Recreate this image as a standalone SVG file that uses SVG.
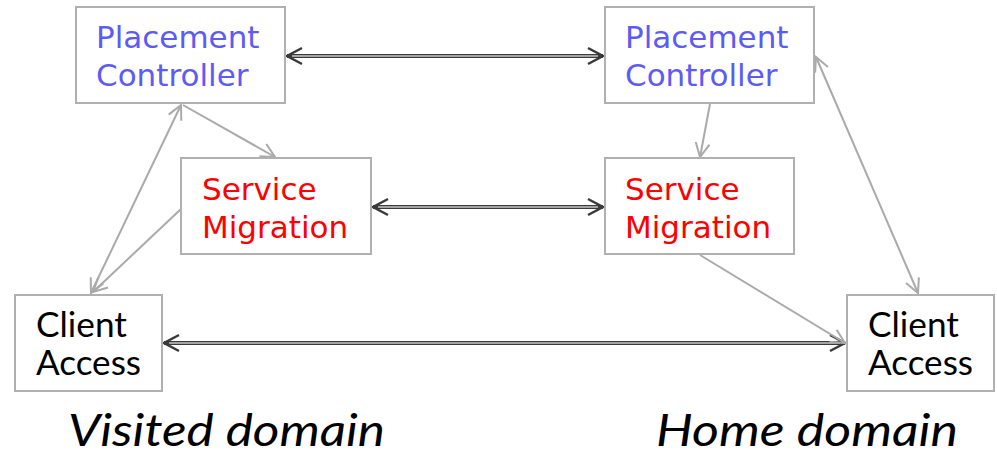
<svg xmlns="http://www.w3.org/2000/svg" width="997" height="456" viewBox="0 0 997 456">
<style>
.box{fill:#fff;stroke:#b0b0b0;stroke-width:2}
.v{font-family:"DejaVu Sans",Verdana,sans-serif;font-size:31px}
.blue{fill:#5c5cf5}
.red{fill:#ff0000}
.c{font-family:Lato,"Open Sans",sans-serif;font-size:35px;fill:#000}
.dom{font-family:Lato,"Open Sans",sans-serif;font-style:italic;font-size:44px;fill:#000}
.g{stroke:#aaaaaa;stroke-width:2;fill:none}
.d{stroke:#3a3a3a;stroke-width:4;fill:none}
.di{stroke:#c8c8c8;stroke-width:1.3;fill:none}
</style>
<defs>
<marker id="ag" markerUnits="userSpaceOnUse" markerWidth="20" markerHeight="20" viewBox="0 0 20 20" refX="17" refY="10" orient="auto-start-reverse">
<path d="M3,3 L17,10 L3,17" fill="none" stroke="#aaaaaa" stroke-width="2"/>
</marker>
<marker id="ad" markerUnits="userSpaceOnUse" markerWidth="22" markerHeight="22" viewBox="0 0 22 22" refX="18" refY="11" orient="auto-start-reverse">
<path d="M3,3 L18,11 L3,19" fill="none" stroke="#3a3a3a" stroke-width="2.5"/>
</marker>
</defs>
<g id="connectors">
<line class="d" x1="287" y1="56" x2="603" y2="56" marker-start="url(#ad)" marker-end="url(#ad)"/>
<line class="di" x1="292" y1="56" x2="598" y2="56"/>
<line class="d" x1="373" y1="207" x2="603" y2="207" marker-start="url(#ad)" marker-end="url(#ad)"/>
<line class="di" x1="378" y1="207" x2="598" y2="207"/>
<line class="d" x1="164" y1="343" x2="845" y2="343" marker-start="url(#ad)" marker-end="url(#ad)"/>
<line class="di" x1="169" y1="343" x2="840" y2="343"/>
<line class="g" x1="181" y1="105" x2="91" y2="293" marker-start="url(#ag)" marker-end="url(#ag)"/>
<line class="g" x1="183" y1="105" x2="275" y2="157" marker-end="url(#ag)"/>
<line class="g" x1="181" y1="209" x2="93" y2="292" marker-end="url(#ag)"/>
<line class="g" x1="710" y1="104" x2="700" y2="157" marker-end="url(#ag)"/>
<line class="g" x1="816" y1="57" x2="918" y2="293" marker-start="url(#ag)" marker-end="url(#ag)"/>
<line class="g" x1="700" y1="255" x2="845" y2="343" marker-end="url(#ag)"/>
</g>
<g id="pc-visited">
<rect class="box" x="76" y="7" width="209" height="96"/>
<text class="v blue" x="96" y="48">Placement</text>
<text class="v blue" x="96" y="86">Controller</text>
</g>
<g id="pc-home">
<rect class="box" x="605" y="7" width="209" height="96"/>
<text class="v blue" x="625" y="48">Placement</text>
<text class="v blue" x="625" y="86">Controller</text>
</g>
<g id="sm-visited">
<rect class="box" x="181" y="158" width="190" height="96"/>
<text class="v red" x="202" y="200">Service</text>
<text class="v red" x="202" y="238">Migration</text>
</g>
<g id="sm-home">
<rect class="box" x="605" y="158" width="189" height="96"/>
<text class="v red" x="625" y="200">Service</text>
<text class="v red" x="625" y="238">Migration</text>
</g>
<g id="ca-visited">
<rect class="box" x="15" y="295" width="147" height="96"/>
<text class="c" x="36" y="337" textLength="91" lengthAdjust="spacingAndGlyphs">Client</text>
<text class="c" x="36" y="375" textLength="105" lengthAdjust="spacingAndGlyphs">Access</text>
</g>
<g id="ca-home">
<rect class="box" x="847" y="295" width="147" height="96"/>
<text class="c" x="868" y="337" textLength="91" lengthAdjust="spacingAndGlyphs">Client</text>
<text class="c" x="868" y="375" textLength="105" lengthAdjust="spacingAndGlyphs">Access</text>
</g>
<text class="dom" x="68" y="446" textLength="317" lengthAdjust="spacingAndGlyphs">Visited domain</text>
<text class="dom" x="656" y="446" textLength="302" lengthAdjust="spacingAndGlyphs">Home domain</text>
</svg>
